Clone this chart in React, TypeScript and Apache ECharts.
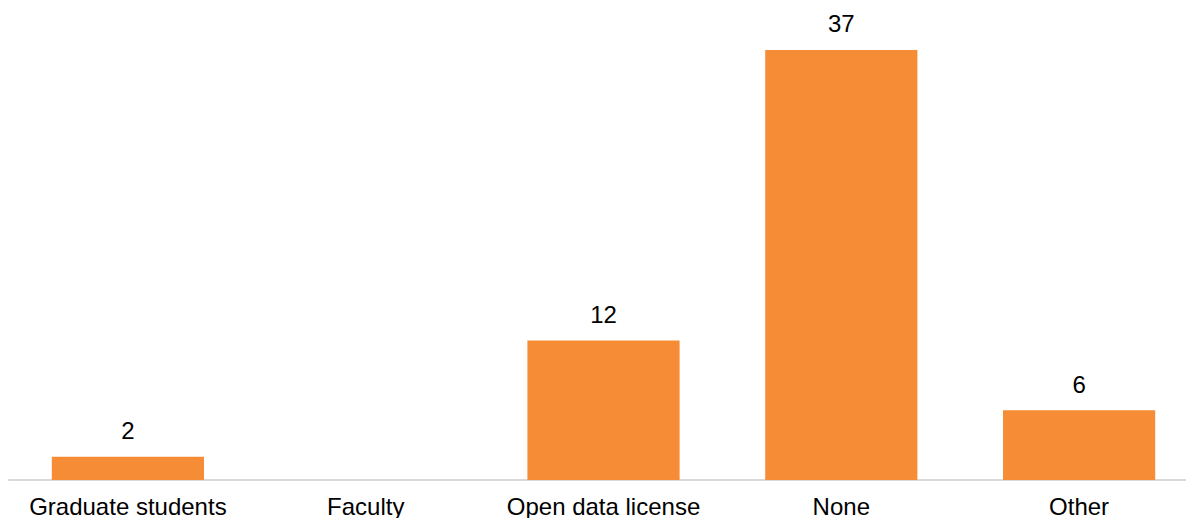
import React, { useEffect, useRef } from "react";
import * as echarts from "echarts";

const categories = ["Graduate students", "Faculty", "Open data license", "None", "Other"];
const values = [2, 0, 12, 37, 6];
const barColor = "#F68C35";

export default function App() {
  const ref = useRef<HTMLDivElement>(null);
  useEffect(() => {
    if (!ref.current) return;
    const chart = echarts.init(ref.current, null, { renderer: "svg" });
    chart.setOption({
      animation: false,
      grid: { left: 9, right: 2, top: 15, bottom: 38, containLabel: false },
      xAxis: {
        type: "category",
        data: categories,
        axisLine: { show: true, lineStyle: { color: "#d9d9d9", width: 2 } },
        axisTick: { show: false },
        axisLabel: {
          color: "#000",
          fontSize: 24,
          fontFamily: "Liberation Sans, Arial, sans-serif",
          margin: 14,
          interval: 0,
        },
      },
      yAxis: {
        type: "value",
        min: 0,
        max: 40,
        show: false,
        splitLine: { show: false },
      },
      series: [
        {
          type: "bar",
          data: values,
          barCategoryGap: "36%",
          itemStyle: { color: barColor },
          label: {
            show: true,
            position: "top",
            distance: 14,
            color: "#000",
            fontSize: 24,
            fontFamily: "Liberation Sans, Arial, sans-serif",
            formatter: (p: any) => (p.value === 0 ? "" : String(p.value)),
          },
        },
      ],
    });
    return () => chart.dispose();
  }, []);
  return (
    <div style={{ position: "absolute", left: 0, top: 0, width: 1186, height: 518, overflow: "hidden", background: "#fff" }}>
      <div ref={ref} style={{ width: 1200, height: 518 }} />
    </div>
  );
}
